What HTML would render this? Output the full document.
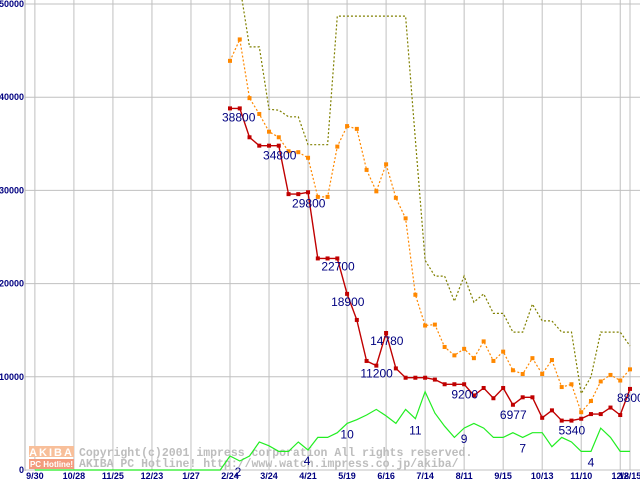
<!DOCTYPE html>
<html><head><meta charset="utf-8"><style>
body{margin:0;background:#fff;}
svg{display:block;}
.tk{font-family:"Liberation Sans",sans-serif;font-size:9px;font-weight:bold;fill:#000080;}
.vl{font-family:"Liberation Sans",sans-serif;font-size:12px;fill:#000080;}
.wm{font-family:"Liberation Mono",monospace;font-size:11.5px;font-weight:bold;fill:#bdbdbd;}
</style></head><body>
<svg id="chart" width="640" height="480"></svg>
<script>
const yTicks=[0,10000,20000,30000,40000,50000];
const xTickIdx=[-20,-16,-12,-8,-4,0,4,8,12,16,20,24,28,32,36,40,41];
const xTickLabels=["9/30","10/28","11/25","12/23","1/27","2/24","3/24","4/21","5/19","6/16","7/14","8/11","9/15","10/13","11/10","12/8","12/15"];
const lowPrice=[38800,38800,35700,34800,34800,34800,29600,29600,29800,22700,22700,22700,18900,16100,11700,11200,14700,10900,9900,9900,9900,9700,9200,9200,9200,8000,8800,7700,8800,7000,7800,7800,5600,6400,5300,5300,5500,6000,6000,6700,5900,8700];
const avgPrice=[43900,46200,39900,38200,36300,35700,34200,34100,33500,29300,29300,34700,36900,36600,32200,29900,32800,29200,27000,18800,15500,15600,13200,12300,13000,12000,13800,11700,12700,10700,10300,12000,10300,11800,8900,9200,6200,7400,9500,10200,9600,10800];
const highPrice=[55000,52000,45400,45400,38700,38600,37900,37900,34900,34900,34900,48700,48700,48700,48700,48700,48700,48700,48700,35400,22500,20800,20800,18100,20800,18000,18900,16800,16800,14800,14800,17800,16000,16000,14800,14800,8200,10000,14800,14800,14800,13300];
const shopCount=[1500,970,1500,3000,2600,2000,2000,3000,2150,3500,3500,4000,5000,5400,5900,6500,5800,5000,6500,5500,8400,6100,4700,3500,4500,5000,4500,3500,3500,4000,3500,4000,4000,2500,3500,3000,2000,2000,4500,3500,2000,2000];
const priceLabels=[[0,"38800",-8,13],[4,"34800",-6,14],[8,"29800",-16,15],[11,"22700",-16,12],[12,"18900",-16,12],[16,"14780",-16,12],[15,"11200",-16,12],[23,"9200",-3,14],[29,"6977",-13,14],[35,"5340",-13,14],[41,"8800",-13,13]];
const countLabels=[[0,"2",8,20],[8,"4",-1,15],[12,"10",0,15],[19,"11",0,16],[24,"9",0,15],[30,"7",0,15],[37,"4",0,15]];

const NS="http://www.w3.org/2000/svg";
const svg=document.getElementById('chart');
const X=i=>230+i*9.756;
const Y=v=>470-v*0.00932;
function mk(t,a){const e=document.createElementNS(NS,t);for(const k in a)e.setAttribute(k,a[k]);return e;}
const defs=mk('defs',{});const cp=mk('clipPath',{id:'clip'});cp.appendChild(mk('rect',{x:25,y:0,width:615,height:471}));defs.appendChild(cp);svg.appendChild(defs);
yTicks.forEach(v=>{
 const l=mk('line',{x1:25,x2:640,y1:Y(v),y2:Y(v),stroke:'#c0c0c0','stroke-width':1});
 
 
 svg.appendChild(l);
 const t=mk('text',{x:24,y:Y(v)+3,'text-anchor':'end',class:'tk'});t.textContent=String(v);
 
 
 svg.appendChild(t);
});
xTickIdx.forEach((ix,k)=>{
 const l=mk('line',{x1:X(ix),x2:X(ix),y1:0,y2:470,stroke:'#c0c0c0','stroke-width':1});
 
 
 svg.appendChild(l);
 const t=mk('text',{x:X(ix),y:479,'text-anchor':'middle',class:'tk'});t.textContent=xTickLabels[k];
 
 
 svg.appendChild(t);
});
const ax=mk('line',{x1:25,x2:25,y1:0,y2:471,stroke:'#b0b0b0'});


svg.appendChild(ax);
const g=mk('g',{});


g.appendChild(mk('rect',{x:29,y:446,width:45,height:11,fill:'#f8bf9a'}));
g.appendChild(mk('rect',{x:29,y:459,width:45,height:10,fill:'#f39c7e'}));
let t1=mk('text',{x:51.5,y:456,'text-anchor':'middle','font-family':'Liberation Sans,sans-serif','font-size':'11','font-weight':'bold',fill:'#fff','letter-spacing':'2'});t1.textContent='AKIBA';g.appendChild(t1);
let t2=mk('text',{x:51.5,y:467,'text-anchor':'middle','font-family':'Liberation Sans,sans-serif','font-size':'8','font-weight':'bold',fill:'#fff'});t2.textContent='PC Hotline!';g.appendChild(t2);
let t3=mk('text',{x:79,y:456,class:'wm'});t3.textContent='Copyright(c)2001 impress corporation All rights reserved.';g.appendChild(t3);
let t4=mk('text',{x:79,y:467,class:'wm'});t4.textContent='AKIBA PC Hotline!  http://www.watch.impress.co.jp/akiba/';g.appendChild(t4);
svg.appendChild(g);
const plot=mk('g',{'clip-path':'url(#clip)'});svg.appendChild(plot);
function line(arr,color,dash,name,w){
 const pts=arr.map((v,i)=>X(i).toFixed(1)+','+Y(v).toFixed(1)).join(' ');
 const p=mk('polyline',{points:pts,fill:'none',stroke:color,'stroke-width':w||1.3});
 if(dash)p.setAttribute('stroke-dasharray',dash);
 
 
 plot.appendChild(p);
}
const gz=mk('polyline',{points:X(-20)+','+Y(0)+' '+X(-1)+','+Y(0)+' '+shopCount.map((v,i)=>X(i).toFixed(1)+','+Y(v).toFixed(1)).join(' '),fill:'none',stroke:'#22ee22','stroke-width':1.2});


plot.appendChild(gz);
line(highPrice,'#808000','2,2','high-price-line',1.2);
line(avgPrice,'#ff8800','2,2','average-price-line',1.2);
line(lowPrice,'#c00000',null,'low-price-line',1.4);
avgPrice.forEach((v,i)=>{const r=mk('rect',{x:X(i)-2,y:Y(v)-2,width:4,height:4,fill:'#ff8800'});
 
 
 plot.appendChild(r);});
lowPrice.forEach((v,i)=>{const r=mk('rect',{x:X(i)-2,y:Y(v)-2,width:4,height:4,fill:'#c00000'});
 
 
 plot.appendChild(r);});
priceLabels.forEach(([i,s,dx,dy])=>{const t=mk('text',{x:X(i)+dx,y:Y(lowPrice[i])+dy,class:'vl'});t.textContent=s;
 
 
 svg.appendChild(t);});
countLabels.forEach(([i,s,dx,dy])=>{const t=mk('text',{x:X(i)+dx,y:Y(shopCount[i])+dy,'text-anchor':'middle',class:'vl'});t.textContent=s;
 
 
 svg.appendChild(t);});
</script>
</body></html>
